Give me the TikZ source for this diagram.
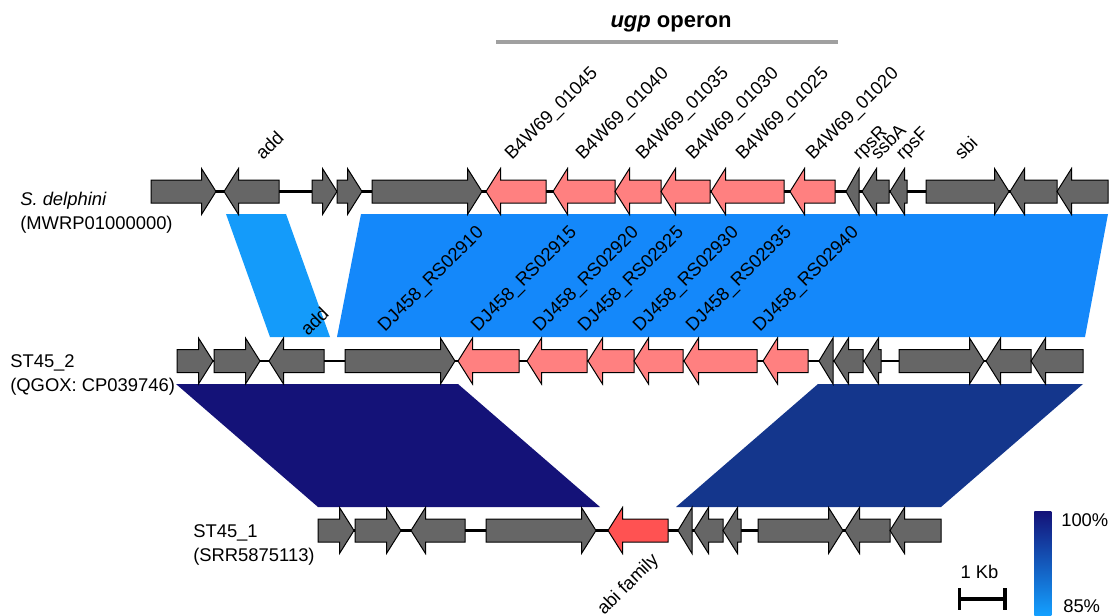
\documentclass[tikz,border=0pt]{standalone}
\usepackage{fontspec}
\setmainfont{Liberation Sans}
\usepackage{tikz}
\usetikzlibrary{positioning}
\definecolor{genegray}{RGB}{102,102,102}
\definecolor{genepink}{RGB}{255,128,128}
\definecolor{genered}{RGB}{255,82,82}
\definecolor{idlight}{RGB}{20,155,250}
\definecolor{idblue}{RGB}{20,136,250}
\definecolor{idnavy}{RGB}{20,18,120}
\definecolor{iddeep}{RGB}{20,54,140}
\definecolor{idlow}{RGB}{20,160,255}
\definecolor{operongray}{RGB}{160,160,160}
\tikzset{
  genebox/.style={draw=black,line width=0.75pt,line join=miter,fill=genegray},
  pinkgene/.style={genebox,fill=genepink},
  redgene/.style={genebox,fill=genered},
  backbone/.style={line width=1.6pt,color=black},
  taglabel/.style={font=\fontsize{13.8}{16}\selectfont,rotate=45,anchor=base west,inner sep=0pt},
  genomelabel/.style={font=\fontsize{13.8}{18}\selectfont,align=left,anchor=north west,inner sep=0pt},
  plainlabel/.style={font=\fontsize{13.8}{16}\selectfont,inner sep=0pt}
}
% forward gene: start, tip, row
\newcommand{\fgene}[4][]{%
  \pgfmathsetmacro{\headx}{max(#2,#3-14.5)}%
  \draw[genebox,#1] (#2,#4-11.5) -- (\headx,#4-11.5) -- (\headx,#4-23) -- (#3,#4)
    -- (\headx,#4+23) -- (\headx,#4+11.5) -- (#2,#4+11.5) -- cycle;}
% reverse gene: tip, end, row
\newcommand{\rgene}[4][]{%
  \pgfmathsetmacro{\headx}{min(#3,#2+14.5)}%
  \draw[genebox,#1] (#3,#4-11.5) -- (\headx,#4-11.5) -- (\headx,#4-23) -- (#2,#4)
    -- (\headx,#4+23) -- (\headx,#4+11.5) -- (#3,#4+11.5) -- cycle;}

\begin{document}
\begin{tikzpicture}[x=0.75pt,y=-0.75pt]
  \useasboundingbox (0,0) rectangle (1111,615);

  %% IDENTITY LINKS
  \fill[idlight] (226,214) -- (286,214) -- (330,337) -- (270,337) -- cycle;
  \fill[idblue] (361,214) -- (1108,214) -- (1085,337) -- (337,337) -- cycle;
  \fill[idnavy] (176,384) -- (458,384) -- (600,507) -- (318,507) -- cycle;
  \fill[iddeep] (818,384) -- (1083,384) -- (941,507) -- (676,507) -- cycle;

  %% OPERON BAR
  \draw[operongray,line width=3pt] (496,42) -- (838,42);
  \node[font=\fontsize{16.5}{20}\selectfont\bfseries,anchor=base,inner sep=0pt]
    (operon) at (671,27) {\textit{ugp} operon};

  %% ROW 1 --- S. delphini
  \draw[backbone] (151,191.5) -- (1108,191.5);
  \fgene{151}{216}{191.5}
  \rgene{224}{279}{191.5}
  \fgene{312}{337}{191.5}
  \fgene{337}{362}{191.5}
  \fgene{372}{482}{191.5}
  \rgene[pinkgene]{486}{546}{191.5}
  \rgene[pinkgene]{553}{615}{191.5}
  \rgene[pinkgene]{615}{661}{191.5}
  \rgene[pinkgene]{661}{710}{191.5}
  \rgene[pinkgene]{711}{784}{191.5}
  \rgene[pinkgene]{790}{835}{191.5}
  \rgene{846}{859}{191.5}
  \rgene{862}{889}{191.5}
  \rgene{890}{907}{191.5}
  \fgene{926}{1009}{191.5}
  \rgene{1010}{1057}{191.5}
  \rgene{1057}{1108}{191.5}

  %% ROW 2 --- ST45_2
  \draw[backbone] (177,361) -- (1083,361);
  \fgene{177}{213}{361}
  \fgene{214}{260}{361}
  \rgene{269}{324}{361}
  \fgene{345}{455}{361}
  \rgene[pinkgene]{458}{519}{361}
  \rgene[pinkgene]{527}{587}{361}
  \rgene[pinkgene]{588}{634}{361}
  \rgene[pinkgene]{634}{683}{361}
  \rgene[pinkgene]{684}{757}{361}
  \rgene[pinkgene]{763}{808}{361}
  \rgene{819}{833}{361}
  \rgene{834}{863}{361}
  \rgene{864}{881}{361}
  \fgene{899}{984}{361}
  \rgene{986}{1031}{361}
  \rgene{1031}{1083}{361}

  %% ROW 3 --- ST45_1
  \draw[backbone] (318,530.5) -- (941,530.5);
  \fgene{318}{354}{530.5}
  \fgene{355}{401}{530.5}
  \rgene{411}{465}{530.5}
  \fgene{486}{596}{530.5}
  \rgene[redgene]{608}{668}{530.5}
  \rgene{678}{692}{530.5}
  \rgene{694}{723}{530.5}
  \rgene{723}{741}{530.5}
  \fgene{758}{843}{530.5}
  \rgene{845}{890}{530.5}
  \rgene{890}{941}{530.5}

  %% GENE LABELS
  \node[taglabel] (t_add1) at (263,161) {add};
  \node[taglabel] (t_01045) at (512,161) {B4W69\_01045};
  \node[taglabel] (t_01040) at (583,161) {B4W69\_01040};
  \node[taglabel] (t_01035) at (643,161) {B4W69\_01035};
  \node[taglabel] (t_01030) at (693,161) {B4W69\_01030};
  \node[taglabel] (t_01025) at (743,161) {B4W69\_01025};
  \node[taglabel] (t_01020) at (813,161) {B4W69\_01020};
  \node[taglabel] (t_rpsR) at (860,161) {rpsR};
  \node[taglabel] (t_ssbA) at (878,161) {ssbA};
  \node[taglabel] (t_rpsF) at (903,161) {rpsF};
  \node[taglabel] (t_sbi) at (962,161) {sbi};

  \node[taglabel] (t_add2) at (308,337) {add};
  \node[taglabel] (t_02910) at (385,333) {DJ458\_RS02910};
  \node[taglabel] (t_02915) at (478,333) {DJ458\_RS02915};
  \node[taglabel] (t_02920) at (540,333) {DJ458\_RS02920};
  \node[taglabel] (t_02925) at (585,333) {DJ458\_RS02925};
  \node[taglabel] (t_02930) at (640,333) {DJ458\_RS02930};
  \node[taglabel] (t_02935) at (693,333) {DJ458\_RS02935};
  \node[taglabel] (t_02940) at (760,333) {DJ458\_RS02940};

  \node[taglabel,anchor=north east] (t_abi) at (650,551) {abi family};

  %% GENOME NAMES
  \node[genomelabel] (g_delph) at (20,192) {\textit{S. delphini}\\(MWRP01000000)};
  \node[genomelabel] (g_st452) at (10,354) {ST45\_2\\(QGOX: CP039746)};
  \node[genomelabel] (g_st451) at (193,524) {ST45\_1\\(SRR5875113)};

  %% SCALE AND LEGEND
  \node[plainlabel,anchor=base] (kb) at (979.5,578) {1 Kb};
  \draw[line width=2.5pt] (958,599) -- (1006,599);
  \draw[line width=2.5pt] (959.5,588) -- (959.5,610);
  \draw[line width=2.5pt] (1005,588) -- (1005,610);
  \node[top color=idnavy,bottom color=idlow,minimum width=12.75pt,minimum height=78pt,
        inner sep=0pt,anchor=north west] (cbar) at (1034,511) {};
  \node[plainlabel,anchor=base west] (p100) at (1061,526) {100\%};
  \node[plainlabel,anchor=base west] (p85) at (1063,612) {85\%};
\end{tikzpicture}
\end{document}
